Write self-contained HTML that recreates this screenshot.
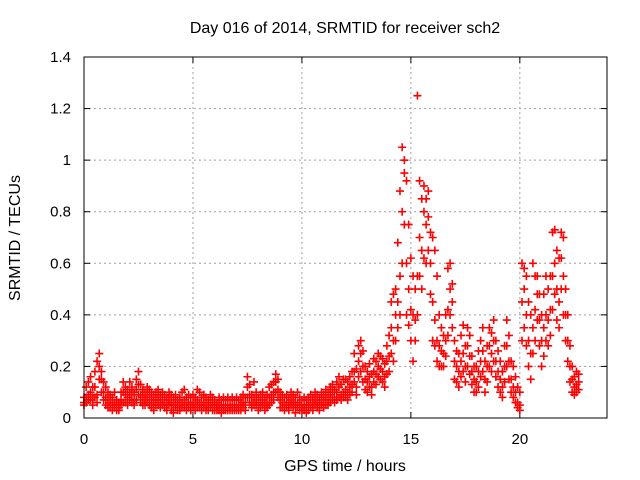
<!DOCTYPE html>
<html><head><meta charset="utf-8"><style>
body{margin:0;background:#fff;}
svg{display:block;font-family:"Liberation Sans",sans-serif;}
</style></head><body>
<svg id="chart" width="640" height="480" viewBox="0 0 640 480">
<rect width="640" height="480" fill="#fff"/>
<text x="345" y="33" font-size="16" text-anchor="middle" fill="#000">Day 016 of 2014, SRMTID for receiver sch2</text>
<text x="345" y="471" font-size="16" text-anchor="middle" fill="#000">GPS time / hours</text>
<text transform="translate(20,238) rotate(-90)" font-size="16" text-anchor="middle" fill="#000">SRMTID / TECUs</text>
<g id="grid"></g>
<g id="ticks"></g>
<g id="marks"></g>
<rect x="84" y="57" width="523" height="361" fill="none" stroke="#000" stroke-width="1"/>
</svg>
<script>
const xTicks=[0,5,10,15,20];
const yTicks=[0,0.2,0.4,0.6,0.8,1,1.2,1.4];
const yTickLabels=["0","0.2","0.4","0.6","0.8","1","1.2","1.4"];
const startHour=0, stepHour=0.1;
const seriesMid=[.06,.08,.09,.10,.08,.12,.09,.20,.15,.10,
.08,.07,.06,.05,.06,.05,.04,.07,.10,.09,
.08,.10,.09,.07,.11,.13,.09,.08,.07,.09,
.08,.07,.06,.07,.08,.06,.07,.06,.05,.07,
.06,.05,.06,.04,.05,.06,.07,.05,.06,.05,
.06,.05,.07,.06,.05,.06,.05,.04,.06,.05,
.05,.04,.05,.04,.05,.04,.05,.04,.05,.04,
.05,.04,.05,.06,.05,.12,.09,.06,.08,.07,
.05,.06,.07,.05,.06,.08,.09,.10,.14,.11,
.07,.06,.05,.06,.05,.07,.06,.05,.06,.05,
.04,.05,.04,.05,.06,.05,.07,.06,.05,.07,
.06,.08,.07,.09,.10,.08,.10,.12,.09,.10,
.11,.10,.12,.13,.18,.12,.22,.25,.20,.15,
.14,.16,.12,.18,.17,.20,.19,.18,.16,.22,
.24,.35,.30,.40,.45,.55,.80,.95,.60,.50,
.42,.40,.38,.55,.70,.65,.80,.75,.78,.60,
.45,.38,.30,.28,.26,.25,.30,.42,.50,.45,
.22,.20,.18,.22,.25,.20,.28,.24,.18,.15,
.14,.18,.22,.26,.15,.20,.28,.25,.30,.22,
.18,.15,.12,.20,.28,.22,.15,.12,.10,.06,
.05,.45,.50,.40,.30,.25,.35,.42,.48,.38,
.30,.35,.40,.38,.42,.55,.60,.50,.45,.62,
.55,.40,.30,.20,.15,.12,.13,.14];
const seriesHigh=[.08,.12,.14,.16,.12,.18,.22,.25,.18,.14,
.12,.10,.09,.08,.10,.07,.06,.10,.14,.12,
.11,.14,.12,.10,.15,.18,.13,.11,.10,.12,
.11,.10,.09,.10,.11,.09,.10,.09,.08,.10,
.09,.08,.09,.07,.08,.10,.11,.08,.09,.08,
.09,.08,.11,.10,.08,.09,.08,.07,.09,.08,
.07,.06,.08,.07,.08,.07,.08,.07,.08,.07,
.08,.07,.08,.09,.08,.16,.13,.09,.14,.10,
.08,.09,.10,.08,.09,.12,.13,.14,.17,.15,
.10,.09,.08,.09,.08,.10,.09,.08,.10,.08,
.07,.08,.07,.08,.09,.08,.10,.09,.08,.10,
.09,.11,.10,.12,.13,.11,.14,.16,.13,.15,
.15,.14,.16,.18,.25,.19,.28,.30,.26,.20,
.18,.21,.17,.23,.22,.25,.24,.23,.21,.28,
.32,.45,.48,.50,.68,.88,1.05,1.00,.92,.75,
.62,.55,.50,1.25,.92,.85,.90,.85,.88,.72,
.70,.65,.55,.40,.35,.32,.40,.58,.60,.52,
.30,.26,.25,.32,.36,.28,.35,.32,.24,.20,
.20,.26,.30,.35,.22,.28,.35,.33,.38,.30,
.26,.22,.18,.28,.38,.32,.22,.20,.16,.12,
.10,.60,.58,.55,.45,.40,.60,.55,.55,.48,
.40,.48,.55,.50,.55,.72,.73,.65,.62,.72,
.70,.50,.40,.28,.20,.16,.18,.17];
const seriesLow=[.05,.06,.07,.07,.05,.08,.06,.15,.10,.07,
.05,.04,.04,.03,.04,.03,.03,.05,.06,.06,
.05,.07,.06,.05,.07,.09,.06,.05,.05,.06,
.05,.04,.03,.05,.05,.04,.05,.04,.03,.05,
.03,.02,.04,.03,.03,.04,.04,.03,.04,.03,
.04,.03,.04,.04,.03,.04,.03,.03,.04,.03,
.03,.03,.03,.02,.03,.03,.03,.03,.03,.03,
.03,.03,.03,.04,.03,.08,.06,.04,.05,.05,
.03,.04,.05,.03,.04,.05,.06,.07,.10,.08,
.04,.04,.03,.04,.03,.05,.04,.02,.04,.03,
.03,.03,.02,.03,.04,.03,.05,.04,.03,.05,
.04,.05,.05,.06,.07,.06,.07,.08,.07,.08,
.08,.07,.09,.10,.14,.09,.16,.18,.14,.11,
.10,.12,.09,.14,.13,.16,.15,.14,.12,.17,
.18,.25,.22,.30,.35,.40,.60,.75,.40,.36,
.30,.22,.30,.40,.55,.50,.62,.60,.65,.48,
.30,.28,.22,.20,.20,.20,.24,.32,.40,.35,
.15,.14,.12,.16,.18,.14,.20,.17,.13,.10,
.10,.12,.16,.18,.10,.14,.20,.18,.22,.16,
.12,.10,.08,.14,.20,.15,.10,.08,.06,.04,
.03,.30,.35,.28,.20,.15,.25,.30,.38,.28,
.20,.24,.30,.28,.32,.42,.48,.38,.35,.50,
.40,.30,.22,.14,.10,.09,.10,.11];

const X0=84,X1=607,Y0=418,Y1=57,XMAX=24,YMAX=1.4;
function xs(v){return X0+(X1-X0)*v/XMAX;}
function ys(v){return Y0-(Y0-Y1)*v/YMAX;}
const NS="http://www.w3.org/2000/svg";
const grid=document.getElementById('grid'),ticks=document.getElementById('ticks'),marks=document.getElementById('marks');
function mk(tag,attrs,parent){const e=document.createElementNS(NS,tag);for(const k in attrs)e.setAttribute(k,attrs[k]);parent.appendChild(e);return e;}
xTicks.forEach(function(t){
  const x=xs(t);
  if(t>0){const g=mk('line',{x1:x,x2:x,y1:Y1,y2:Y0,stroke:'#a0a0a0','stroke-dasharray':'2,3'},grid);
  
  }
  const l=mk('text',{x:x,y:Y0+26,'font-size':15,'text-anchor':'middle'},ticks);
  l.textContent=String(t);
  
  
  mk('line',{x1:x,x2:x,y1:Y0,y2:Y0-6,stroke:'#000'},ticks);
  mk('line',{x1:x,x2:x,y1:Y1,y2:Y1+6,stroke:'#000'},ticks);
});
yTicks.forEach(function(t,i){
  const y=ys(t);
  if(t>0&&t<YMAX){const g=mk('line',{x1:X0,x2:X1,y1:y,y2:y,stroke:'#a0a0a0','stroke-dasharray':'2,3'},grid);
  
  }
  const l=mk('text',{x:X0-13,y:y+5,'font-size':15,'text-anchor':'end'},ticks);
  l.textContent=yTickLabels[i];
  
  
  mk('line',{x1:X0,x2:X0+6,y1:y,y2:y,stroke:'#000'},ticks);
  mk('line',{x1:X1,x2:X1-6,y1:y,y2:y,stroke:'#000'},ticks);
});
[seriesLow,seriesMid,seriesHigh].forEach(function(arr){
  arr.forEach(function(v,i){
    const h=startHour+i*stepHour;
    const x=xs(h),y=ys(v);
    const p=mk('path',{d:'M'+(x-4)+' '+y+'h8M'+x+' '+(y-4)+'v8',stroke:'#ff0000','stroke-width':1.6,fill:'none'},marks);
    
    
  });
});
</script>
</body></html>
